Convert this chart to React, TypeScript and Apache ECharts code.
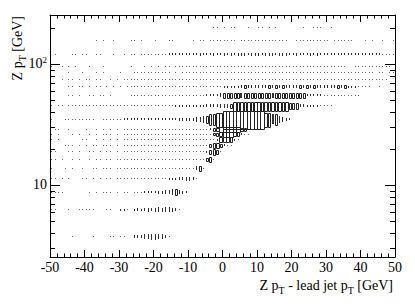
import React, { useEffect, useRef } from "react";
import * as echarts from "echarts";

// ---- axis ranges / ticks ----
const X_MIN = -50;
const X_MAX = 50;
const X_INTERVAL = 10;
const X_BIN_WIDTH = 1;
const Y_MIN = 2.54;
const Y_MAX = 254;
const Y_MINOR_TICKS = [3, 4, 5, 6, 7, 8, 9, 20, 30, 40, 50, 60, 70, 80, 90, 200];

// ---- y bins (Z pT, GeV) ----
const ROW_LOW = [2.5, 5, 7.5, 10, 12.5, 15, 17.5, 20, 22.5, 25, 27.5, 28.75, 40, 50, 60, 70, 80, 90, 100, 140, 170];
const ROW_HIGH = [5, 7.5, 10, 12.5, 15, 17.5, 20, 22.5, 25, 27.5, 30, 41.25, 50, 60, 70, 80, 90, 100, 140, 170, 230];

// ---- bin contents: one string per y bin, 100 x bins from -50 to 50 (level 0..9, '.' = empty) ----
const ROW_CELLS = [
  "......1...|..1....11.|11..222334|43321.....|..........|..........|..........|..........|..........|..........",
  "11...1..11|111...11..|221.232343|45455431..|..........|..........|..........|..........|..........|..........",
  "1111......|.1.1.111.1|.22.222333|3445566543|..........|..........|..........|..........|..........|..........",
  "11.1.1...1|1.1.1.11.1|1111111222|2222334556|652.......|..........|..........|..........|..........|..........",
  "1...1.1..1|..11.111.1|1111111111|1112222222|23673.....|..........|..........|..........|..........|..........",
  "11.1..1.1.|.1.11.11.1|1111111111|1112222222|22224673..|..........|..........|..........|..........|..........",
  "11...11.1.|.11.1.11.1|.111111111|1112222222|2222257873|..........|..........|..........|..........|..........",
  "....111.1.|1.11.111.1|.111111111|1112222222|2222227887|532.......|..........|..........|..........|..........",
  "1.1......1|1..1.1.1.1|.111111111|1112222222|2222222468|99863.....|..........|..........|..........|..........",
  "1.1...1.1.|.1.1.111.1|.111111111|1112222222|2222224678|99988632..|..........|..........|..........|..........",
  ".11..1....|1..1.1.1.1|.111111111|1112222222|2222246789|9999987532|..........|..........|..........|..........",
  "1...111111|111..11111|1222222222|2333333444|4455667788|9999999999|9988776543|..........|..........|..........",
  "1.11.11111|1111111111|1222222222|2222223333|3333355556|6668888888|8888888887|7755433322|21........|..........",
  ".....11.1.|.11.11.1..|...1111111|1111122222|2333344446|7777777777|7777777777|7777555553|3322221111|..........",
  ".....11.11|.1.11.1.1.|1.11111111|1111111111|1111133333|5555566666|6666666666|6666666666|6666665554|422..1....",
  "...1.11.1.|11.11..1.1|.111111111|1111111111|1111112222|2223222322|2232222232|2222222222|2222222222|22222221..",
  ".....1...1|...1.1....|1...111111|11111.1.11|1111111111|2212222122|2222122222|2221222212|1212211121|1111.11.11",
  "1..1.1.1..|.1...1....|...1...1.1|.1.11.1111|1111111111|1111111111|1111111111|1111111111|111111..11|111111111.",
  ".1....11.1|1..11...1.|.1.11.1111|2222333333|3334333433|4343444344|4344434443|3433343433|3333333333|3333332221",
  "..........|...1.1..1.|...11.1...|1...11....|.1.11.1111|1111.11111|111111111.|.111111111|1.111111..|.1.1..1..1",
  "..........|..........|..........|..........|.......11.|1.11...1..|11.1.1....|...1..111.|.1........|..........",
];

// box side as a fraction of the bin, per content level
const LEVEL_FRAC = [0, 0.03, 0.08, 0.13, 0.18, 0.26, 0.38, 0.55, 0.75, 1.0];

const X_TITLE = "Z p{sub|T} - lead jet p{sub|T} [GeV]";
const Y_TITLE = "Z p{sub|T} [GeV]";

const SERIF = "'Liberation Serif', 'DejaVu Serif', serif";

function buildCells() {
  const out: number[][] = [];
  ROW_CELLS.forEach((row, r) => {
    const s = row.replace(/\|/g, "");
    for (let i = 0; i < s.length; i++) {
      const c = s[i];
      if (c === "." || c === "0") continue;
      out.push([X_MIN + (i + 0.5) * X_BIN_WIDTH, (ROW_LOW[r] + ROW_HIGH[r]) / 2, Number(c), r]);
    }
  });
  return out;
}

export default function App() {
  const ref = useRef<HTMLDivElement>(null);

  useEffect(() => {
    if (!ref.current) return;
    const chart = echarts.init(ref.current, undefined, { renderer: "svg" });

    const cells = buildCells();

    const renderBox = (_params: any, api: any) => {
      const xc = api.value(0);
      const yc = api.value(1);
      const lvl = api.value(2);
      const r = api.value(3);
      const f = LEVEL_FRAC[lvl];
      const halfW = (f * X_BIN_WIDTH) / 2;
      const halfH = (f * (ROW_HIGH[r] - ROW_LOW[r])) / 2;
      const pLo = api.coord([xc - halfW, yc - halfH]);
      const pHi = api.coord([xc + halfW, yc + halfH]);
      const x0 = pLo[0];
      const x1 = pHi[0];
      const y0 = pHi[1];
      const y1 = pLo[1];
      const X0 = Math.round(x0);
      const X1 = Math.round(x1);
      const Y0 = Math.round(y0);
      const Y1 = Math.round(y1);
      if (X1 - X0 >= 2 && Y1 - Y0 >= 2) {
        // open box whose outline sits on the (snapped) box edges
        return {
          type: "rect",
          shape: { x: X0 + 0.5, y: Y0 + 0.5, width: X1 - X0, height: Y1 - Y0 },
          style: { fill: "none", stroke: "#222", lineWidth: 1 },
        };
      }
      const w = x1 - x0;
      const h = y1 - y0;
      const cx = (x0 + x1) / 2;
      const cy = (y0 + y1) / 2;
      const W = Math.max(1, Math.round(w));
      const H = Math.max(1, Math.round(h));
      const X = Math.round(cx - W / 2);
      const Y = Math.round(cy - H / 2);
      const color = W * H <= 1 ? "#6a6a6a" : "#333";
      return {
        type: "rect",
        shape: { x: X, y: Y, width: W, height: H },
        style: { fill: color },
      };
    };

    const renderMinorTick = (_params: any, api: any) => {
      const v = api.value(1);
      const pL = api.coord([X_MIN, v]);
      const pR = api.coord([X_MAX, v]);
      const y = Math.round(pL[1]) + 0.5;
      return {
        type: "group",
        children: [
          { type: "line", shape: { x1: pL[0], y1: y, x2: pL[0] + 5, y2: y }, style: { stroke: "#000", lineWidth: 1 } },
          { type: "line", shape: { x1: pR[0] - 5, y1: y, x2: pR[0], y2: y }, style: { stroke: "#000", lineWidth: 1 } },
        ],
      };
    };

    const isPow10 = (v: number) => Math.abs(Math.log10(v) - Math.round(Math.log10(v))) < 1e-6;

    const xAxisCommon = {
      type: "value" as const,
      min: X_MIN,
      max: X_MAX,
      interval: X_INTERVAL,
      axisLine: { show: true, onZero: false, lineStyle: { color: "#000", width: 1 } },
      axisTick: { show: true, inside: true, length: 7, lineStyle: { color: "#000", width: 1 } },
      minorTick: { show: true, splitNumber: 5, length: 3.5, lineStyle: { color: "#000", width: 1 } },
      splitLine: { show: false },
      minorSplitLine: { show: false },
    };

    const yAxisCommon = {
      type: "log" as const,
      logBase: 10,
      min: Y_MIN,
      max: Y_MAX,
      axisLine: { show: true, onZero: false, lineStyle: { color: "#000", width: 1 } },
      axisTick: { show: true, inside: true, length: 10, lineStyle: { color: "#000", width: 1 } },
      splitLine: { show: false },
    };

    chart.setOption({
      animation: false,
      backgroundColor: "#fff",
      grid: { left: 50, right: 20, top: 15, bottom: 50, containLabel: false },
      xAxis: [
        {
          ...xAxisCommon,
          position: "bottom",
          axisLabel: { color: "#000", fontFamily: SERIF, fontSize: 14, margin: 3 },
          name: X_TITLE,
          nameLocation: "end",
          nameGap: -2,
          nameTextStyle: {
            color: "#000",
            fontFamily: SERIF,
            fontSize: 14,
            align: "right",
            verticalAlign: "top",
            padding: [18, 0, 0, 0],
            rich: {
              sub: { fontFamily: SERIF, fontSize: 10, color: "#000", padding: [10, 0, 0, 0] },
            },
          },
        },
        {
          ...xAxisCommon,
          position: "top",
          axisLabel: { show: false },
        },
      ],
      yAxis: [
        {
          ...yAxisCommon,
          position: "left",
          axisLabel: {
            color: "#000",
            fontFamily: SERIF,
            fontSize: 14,
            margin: 3,
            formatter: (v: number) => {
              if (!isPow10(v)) return "";
              const e = Math.round(Math.log10(v));
              return e === 1 ? "10" : "10{sup|" + e + "}";
            },
            rich: {
              sup: { fontFamily: SERIF, fontSize: 9, color: "#000", padding: [0, 0, 8, 0] },
            },
          },
        },
        {
          ...yAxisCommon,
          position: "right",
          axisLabel: { show: false },
        },
      ],
      graphic: [
        {
          type: "text",
          x: 7,
          y: 16,
          rotation: Math.PI / 2,
          style: {
            text: Y_TITLE,
            fontFamily: SERIF,
            fontSize: 14,
            fill: "#000",
            align: "right",
            verticalAlign: "top",
            rich: {
              sub: { fontFamily: SERIF, fontSize: 10, fill: "#000", padding: [10, 0, 0, 0] },
            },
          },
        },
      ],
      series: [
        {
          type: "custom",
          coordinateSystem: "cartesian2d",
          xAxisIndex: 0,
          yAxisIndex: 0,
          clip: true,
          silent: true,
          renderItem: renderBox,
          data: cells,
        },
        {
          type: "custom",
          coordinateSystem: "cartesian2d",
          xAxisIndex: 0,
          yAxisIndex: 0,
          clip: false,
          silent: true,
          renderItem: renderMinorTick,
          data: Y_MINOR_TICKS.map((v) => [X_MIN, v]),
        },
      ],
    });

    return () => {
      chart.dispose();
    };
  }, []);

  return (
    <div
      ref={ref}
      style={{ position: "absolute", left: 0, top: 0, width: 415, height: 307, background: "#fff" }}
    />
  );
}
